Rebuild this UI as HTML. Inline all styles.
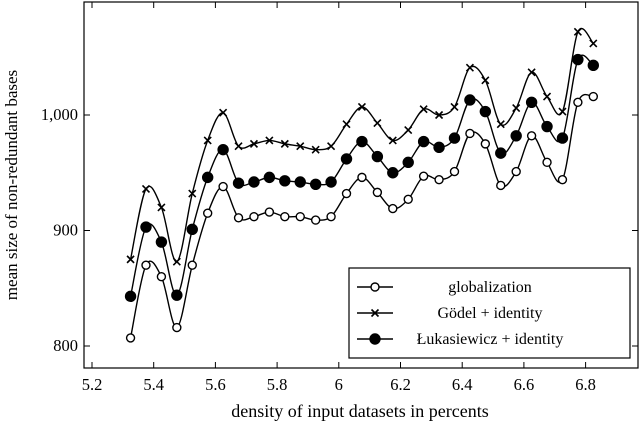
<!DOCTYPE html>
<html><head><meta charset="utf-8"><style>
html,body{margin:0;padding:0;background:#fff;}
svg{display:block;font-family:"Liberation Serif",serif;}
</style></head><body>
<svg id="chart" width="640" height="425" viewBox="0 0 640 425">
<rect x="84" y="2" width="554" height="366" fill="none" stroke="#000" stroke-width="1.2"/>
<g id="ticks"></g>
<g id="series"></g>
<text x="360" y="417" font-size="18" text-anchor="middle">density of input datasets in percents</text>
<text transform="translate(17,185) rotate(-90)" font-size="17" text-anchor="middle">mean size of non-redundant bases</text>
<g>
<rect x="349" y="268" width="281" height="90" fill="#fff" stroke="#000" stroke-width="1.2"/>
<g id="legend"></g>
</g>
</svg>
<script>
const xStart = 5.325, xStep = 0.05;
const globalization = [807,870,860,816,870,915,938,911,912,916,912,912,909,912,932,946,933,919,927,947,944,951,984,975,939,951,982,959,944,1011,1016];
const godel = [875,936,920,873,932,978,1002,973,975,978,975,973,970,973,992,1007,993,978,987,1005,1000,1007,1041,1030,992,1006,1037,1016,1003,1072,1062];
const lukasiewicz = [843,903,890,844,901,946,970,941,942,946,943,942,940,942,962,977,964,950,959,977,972,980,1013,1003,967,982,1011,990,980,1048,1043];
const xTicks = [5.2,5.4,5.6,5.8,6,6.2,6.4,6.6,6.8];
const xTickLabels = ["5.2","5.4","5.6","5.8","6","6.2","6.4","6.6","6.8"];
const yTicks = [800,900,1000];
const yTickLabels = ["800","900","1,000"];
const seriesNames = ["globalization","Gödel + identity","Łukasiewicz + identity"];

const NS="http://www.w3.org/2000/svg";
function X(v){return 92+(v-5.2)*308.5;}
function Y(v){return 115+(1000-v)*1.155;}
function mk(t,a,p){const e=document.createElementNS(NS,t);for(const k in a)e.setAttribute(k,a[k]);p.appendChild(e);return e;}
const tg=document.getElementById('ticks');
xTicks.forEach((t,i)=>{
  const x=X(t);
  let l=mk('line',{x1:x,x2:x,y1:368,y2:362,stroke:'#000'},tg);
  
  
  l=mk('line',{x1:x,x2:x,y1:2,y2:8,stroke:'#000'},tg);
  
  
  const tx=mk('text',{x:x,y:390,'font-size':16.5,'text-anchor':'middle'},tg);
  tx.textContent=xTickLabels[i];
  
  
});
yTicks.forEach((t,i)=>{
  const y=Y(t);
  let l=mk('line',{x1:84,x2:90,y1:y,y2:y,stroke:'#000'},tg);
  
  
  l=mk('line',{x1:638,x2:632,y1:y,y2:y,stroke:'#000'},tg);
  
  
  const tx=mk('text',{x:78,y:y+5,'font-size':16.5,'text-anchor':'end'},tg);
  tx.textContent=yTickLabels[i];
  
  
});
function smooth(pts){
  let d='M'+pts[0][0]+','+pts[0][1];
  for(let i=0;i<pts.length-1;i++){
    const p0=pts[i-1]||pts[i],p1=pts[i],p2=pts[i+1],p3=pts[i+2]||p2,k=1/6;
    const c1=[p1[0]+(p2[0]-p0[0])*k,p1[1]+(p2[1]-p0[1])*k];
    const c2=[p2[0]-(p3[0]-p1[0])*k,p2[1]-(p3[1]-p1[1])*k];
    d+=' C'+c1+' '+c2+' '+p2;
  }
  return d;
}
function marker(type,x,y,g){
  if(type==='x'){
    mk('path',{d:`M${x-3.5},${y-3.5}L${x+3.5},${y+3.5}M${x-3.5},${y+3.5}L${x+3.5},${y-3.5}`,stroke:'#000','stroke-width':1.6},g);
  } else {
    mk('circle',{cx:x,cy:y,r:type==='o'?4:5,fill:type==='o'?'#fff':'#000',stroke:'#000','stroke-width':1.4},g);
  }
}
const sg=document.getElementById('series');
const all=[[globalization,'o','series-globalization'],[godel,'x','series-godel-identity'],[lukasiewicz,'f','series-lukasiewicz-identity']];
all.forEach(([vals,type,name])=>{
  const g=mk('g',{},sg);
  
  
  const pts=vals.map((v,i)=>[X(xStart+i*xStep),Y(v)]);
  mk('path',{d:smooth(pts),fill:'none',stroke:'#000','stroke-width':1.4},g);
  pts.forEach(p=>marker(type,p[0],p[1],g));
});
const lg=document.getElementById('legend');
[['o',287],['x',313],['f',339]].forEach(([type,y],i)=>{
  const g=mk('g',{},lg);
  
  
  mk('line',{x1:357,x2:393,y1:y,y2:y,stroke:'#000','stroke-width':1.4},g);
  marker(type,375,y,g);
  const t=mk('text',{x:490,y:y+5,'font-size':16,'text-anchor':'middle'},g);
  t.textContent=seriesNames[i];
});
</script>
</body></html>
